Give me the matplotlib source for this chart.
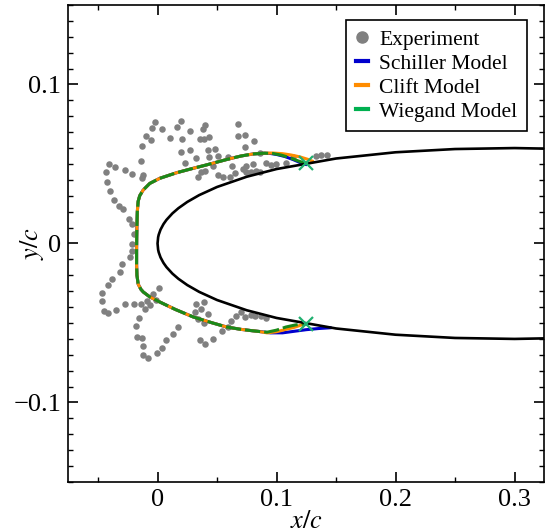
import numpy as np
import matplotlib
matplotlib.use('Agg')
import matplotlib.pyplot as plt
from matplotlib.lines import Line2D
from matplotlib.ticker import MultipleLocator, FuncFormatter

plt.rcParams['font.family'] = ['Liberation Serif', 'DejaVu Serif']
plt.rcParams['mathtext.fontset'] = 'stix'

# NACA 0012 upper surface (x/c, y/c), lower surface is the mirror
foil_x = [0.0, 0.0005, 0.001, 0.0025, 0.005, 0.0075, 0.0125, 0.0175, 0.025, 0.035,
          0.05, 0.075, 0.1, 0.15, 0.2, 0.25, 0.3, 0.35, 0.4]
foil_y = [0.0, 0.00395, 0.00556, 0.00872, 0.01221, 0.01485, 0.01894, 0.02218, 0.02615,
          0.03043, 0.03555, 0.04200, 0.04683, 0.05345, 0.05737, 0.05941, 0.06002,
          0.05933, 0.05803]

# experiment (gray dots)
exp_x = [-0.0023, -0.0048, 0.0039, 0.0165, 0.0201, 0.0271, 0.0378, 0.0400, -0.0101, -0.0054,
         0.0103, 0.0204, 0.0355, 0.0391, 0.0433, -0.0132, 0.0201, 0.0269, 0.0428, 0.0479,
         0.0674, 0.0677, 0.0739, 0.0811, 0.0736, -0.0138, 0.0232, 0.0324, 0.0512, 0.0431,
         -0.0406, -0.0437, -0.0359, -0.0272, -0.0218, -0.0126, -0.0132, 0.0366, 0.0403, 0.0341,
         0.0470, 0.0588, 0.0626, 0.0655, 0.0512, 0.0551, 0.0607, 0.0716, 0.0741, 0.0798,
         0.0747, 0.0783, 0.0831, -0.0428, -0.0400, -0.0369, -0.0327, -0.0289, -0.0241, -0.0218,
         -0.0202, 0.0915, 0.0957, 0.0999, 0.1083, 0.1139, 0.1335, 0.1377, 0.1420, 0.0859,
         0.0859,
         -0.0218, -0.0218, -0.0233, -0.0297, -0.0317, -0.0381, -0.0420, -0.0465, -0.0470, -0.0448,
         -0.0415, -0.0353, -0.0275, -0.0199, -0.0140, -0.0087, -0.0107, -0.0065, -0.0017, -0.0042,
         0.0011, -0.0157, -0.0185, -0.0171, -0.0134, -0.0121, -0.0121, -0.0084, -0.0008, 0.0034,
         0.0070, 0.0131, 0.0173, 0.0355, 0.0403, 0.0467, 0.0542, 0.0593, 0.0621, 0.0663,
         0.0705, 0.0733, 0.0789, 0.0817, 0.0327, 0.0389, 0.0369, 0.0313, 0.0341, 0.0389,
         0.0915, 0.0873, 0.0425]
exp_y = [0.0766, 0.0725, 0.0718, 0.0735, 0.0771, 0.0708, 0.0718, 0.0743, 0.0678, 0.0651,
         0.0662, 0.0655, 0.0655, 0.0659, 0.0672, 0.0613, 0.0575, 0.0588, 0.0588, 0.0596,
         0.0754, 0.0678, 0.0684, 0.0645, 0.0609, 0.0521, 0.0504, 0.0537, 0.0550, 0.0546,
         0.0498, 0.0451, 0.0479, 0.0460, 0.0437, 0.0430, 0.0413, 0.0451, 0.0456, 0.0416,
         0.0487, 0.0546, 0.0487, 0.0445, 0.0430, 0.0416, 0.0416, 0.0470, 0.0487, 0.0498,
         0.0451, 0.0447, 0.0456, 0.0388, 0.0330, 0.0273, 0.0237, 0.0216, 0.0155, 0.0122,
         0.0060, 0.0504, 0.0493, 0.0500, 0.0504, 0.0546, 0.0550, 0.0556, 0.0554, 0.0451,
         0.0571,
         -0.0004, -0.0047, -0.0084, -0.0132, -0.0179, -0.0221, -0.0263, -0.0309, -0.0362, -0.0427,
         -0.0437, -0.0420, -0.0382, -0.0382, -0.0378, -0.0362, -0.0414, -0.0389, -0.0353, -0.0315,
         -0.0277, -0.0466, -0.0519, -0.0589, -0.0592, -0.0645, -0.0704, -0.0718, -0.0687, -0.0655,
         -0.0609, -0.0572, -0.0525, -0.0609, -0.0635, -0.0601, -0.0551, -0.0525, -0.0488, -0.0458,
         -0.0431, -0.0462, -0.0452, -0.0458, -0.0382, -0.0368, -0.0414, -0.0431, -0.0473, -0.0498,
         -0.0466, -0.0458, -0.0445]

# model envelopes, shared part around the leading edge (upper -> lower)
core_x = [0.090, 0.080, 0.070, 0.060, 0.050, 0.040, 0.030, 0.016, 0.0019, -0.0065,
          -0.0121, -0.0150, -0.0163, -0.0170, -0.0173, -0.0175, -0.0176, -0.0176, -0.0173, -0.0163,
          -0.0140, -0.0120, -0.0065, 0.0019, 0.015, 0.030, 0.045, 0.058, 0.070, 0.080,
          0.085]
core_y = [0.0568, 0.0563, 0.0550, 0.0532, 0.0512, 0.0492, 0.0473, 0.0445, 0.0410, 0.0378,
          0.0336, 0.0300, 0.0265, 0.0200, 0.0120, 0.0040, -0.0050, -0.0130, -0.0200, -0.0255,
          -0.0288, -0.0305, -0.0336, -0.0368, -0.0415, -0.0462, -0.0497, -0.0525, -0.0540, -0.0549,
          -0.0553]

schiller_up_x = [0.1245, 0.1195, 0.1139, 0.107, 0.100, 0.095]
schiller_up_y = [0.0498, 0.0510, 0.0528, 0.0547, 0.0560, 0.0566]
schiller_lo_x = [0.095, 0.105, 0.115, 0.125, 0.135, 0.145]
schiller_lo_y = [-0.0562, -0.0562, -0.0552, -0.0542, -0.0535, -0.0530]

clift_up_x = [0.130, 0.126, 0.1195, 0.112, 0.105, 0.097]
clift_up_y = [0.0518, 0.0530, 0.0545, 0.0557, 0.0565, 0.0569]
clift_lo_x = [0.092, 0.100, 0.108, 0.115, 0.122]
clift_lo_y = [-0.0562, -0.0555, -0.0540, -0.0527, -0.0510]

wiegand_up_x = [0.124, 0.118, 0.111, 0.104, 0.097]
wiegand_up_y = [0.0505, 0.0520, 0.0540, 0.0556, 0.0566]
wiegand_lo_x = [0.092, 0.100, 0.108, 0.116, 0.124]
wiegand_lo_y = [-0.0558, -0.0545, -0.0525, -0.0512, -0.0505]

# impingement limits (x markers)
limit_x = [0.125, 0.125]
limit_y = [0.0505, -0.0505]

fig = plt.figure(figsize=(5.49, 5.32), dpi=100)
ax = fig.add_axes([0.1244, 0.094, 0.867, 0.8966])

ax.scatter(exp_x, exp_y, s=22, color='#808080', linewidths=0, zorder=2)

def model(up_x, up_y, lo_x, lo_y):
    return up_x + core_x + lo_x, up_y + core_y + lo_y

sx, sy = model(schiller_up_x, schiller_up_y, schiller_lo_x, schiller_lo_y)
cx, cy = model(clift_up_x, clift_up_y, clift_lo_x, clift_lo_y)
wx, wy = model(wiegand_up_x, wiegand_up_y, wiegand_lo_x, wiegand_lo_y)
ax.plot(sx, sy, color='mediumblue', lw=2.2, zorder=3)
ax.plot(cx, cy, color='darkorange', lw=2.2, zorder=4)
ax.plot(wx, wy, color='#1a8a1a', lw=2.2, ls=(0, (5, 1.3)), zorder=5)

fx = np.array(foil_x)
fy = np.array(foil_y)
ax.plot(np.concatenate([fx[::-1], fx[1:]]), np.concatenate([fy[::-1], -fy[1:]]),
        color='black', lw=1.9, zorder=6)

ax.plot(limit_x, limit_y, ls='none', marker='x', ms=10, mew=1.6, color='#20b070', zorder=7)

ax.set_xlim(-0.075, 0.325)
ax.set_ylim(-0.15, 0.15)
ax.xaxis.set_major_locator(MultipleLocator(0.1))
ax.xaxis.set_minor_locator(MultipleLocator(0.05))
ax.yaxis.set_major_locator(MultipleLocator(0.1))
ax.yaxis.set_minor_locator(MultipleLocator(0.01))
fmt = FuncFormatter(lambda v, p: '0' if abs(v) < 1e-9 else f'{v:g}'.replace('-', '\u2212'))
ax.xaxis.set_major_formatter(fmt)
ax.yaxis.set_major_formatter(fmt)
ax.tick_params(which='both', direction='in', top=True, right=True, labelsize=19)
ax.tick_params(which='major', length=7, width=1.2, pad=5)
ax.tick_params(which='minor', length=3.5, width=1.0)
for s in ax.spines.values():
    s.set_linewidth(1.2)

ax.set_xlabel('$x/c$', fontsize=19, labelpad=0)
ax.set_ylabel('$y/c$', fontsize=19)
ax.yaxis.set_label_coords(-0.046, 0.5)

handles = [
    Line2D([], [], ls='none', marker='o', ms=8, color='#808080'),
    Line2D([], [], color='mediumblue', lw=3),
    Line2D([], [], color='darkorange', lw=3),
    Line2D([], [], color='#00b050', lw=3),
]
labels = ['Experiment', 'Schiller Model', 'Clift Model', 'Wiegand Model']
leg = ax.legend(handles, labels, loc='upper right', bbox_to_anchor=(0.9637, 0.9686),
                borderaxespad=0, fontsize=15.5, handlelength=0.6, handletextpad=0.5,
                labelspacing=0.18, borderpad=0.45, fancybox=False, framealpha=1,
                edgecolor='black')
leg.get_frame().set_linewidth(1.2)

fig.savefig('out.png', dpi=100)
